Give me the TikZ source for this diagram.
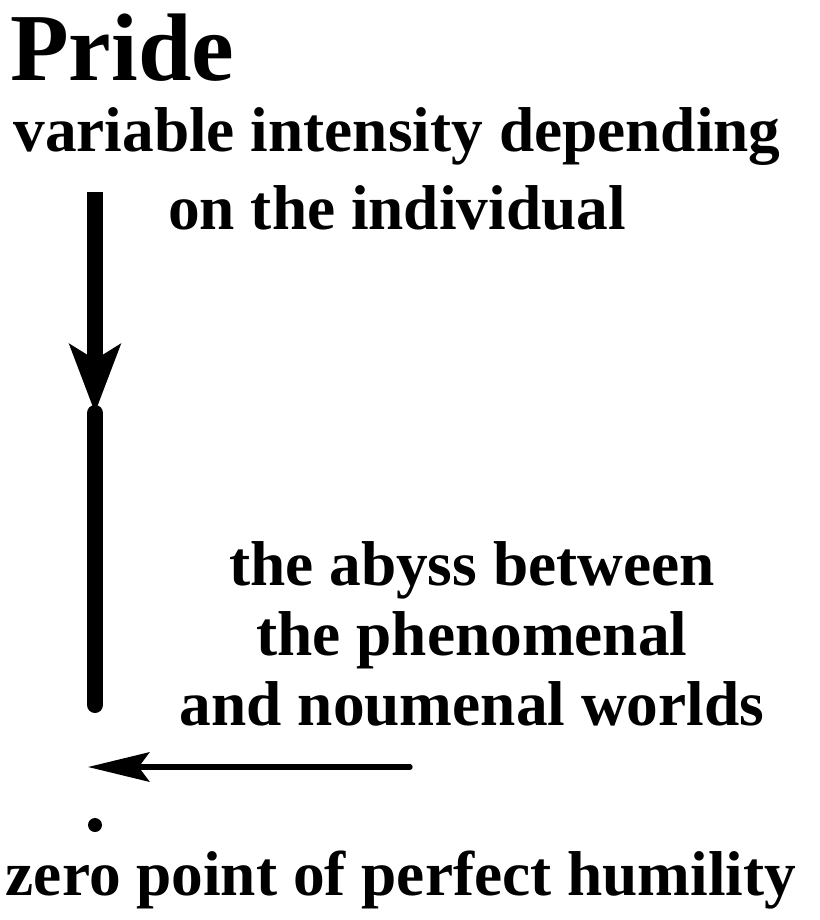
\documentclass[tikz,border=0pt]{standalone}
\usepackage{fontspec}
\setmainfont{Liberation Serif}
\usetikzlibrary{arrows.meta,positioning}
\tikzset{
  ttl/.style={font=\bfseries\fontsize{72}{80}\selectfont, inner sep=0pt},
  txt/.style={font=\bfseries\fontsize{47.5}{56}\selectfont, inner sep=0pt, align=center},
  axis/.style={line width=12pt, draw=black},
  ar/.style={-{Stealth[length=51pt, width=37.5pt, inset=11pt]}, line width=12pt},
  arl/.style={-{Stealth[length=46pt, width=22pt, inset=8pt]}, line width=4pt, line cap=round},
}
\begin{document}
\begin{tikzpicture}[x=0.75pt, y=-0.75pt]
  \useasboundingbox (0,0) rectangle (819,920);
  % titles
  \node[ttl, anchor=base west] (pride) at (10,81) {Pride};
  \node[txt, anchor=base, font=\bfseries\fontsize{47.5}{58}\selectfont] (intens) at (397,229) {variable intensity depending\\ on the individual};
  \node[txt, anchor=base, font=\bfseries\fontsize{47.5}{52.5}\selectfont] (abyss) at (472,725) {the abyss between\\ the phenomenal\\ and noumenal worlds};
  \node[txt, anchor=base] (zero) at (401,895) {zero point of perfect humility};
  % scale of pride
  \coordinate (top) at (95,192);
  \coordinate (mid) at (95,413);
  \coordinate (bot) at (95,705);
  \draw[ar] (top) -- (mid);
  \draw[axis, line cap=round] (mid) -- (bot);
  % abyss arrow
  \coordinate (from) at (410,767);
  \coordinate (to) at (88,767);
  \draw[arl] (from) -- (to);
  % zero point
  \fill (95,825) circle[radius=7] coordinate (zp);
\end{tikzpicture}
\end{document}
